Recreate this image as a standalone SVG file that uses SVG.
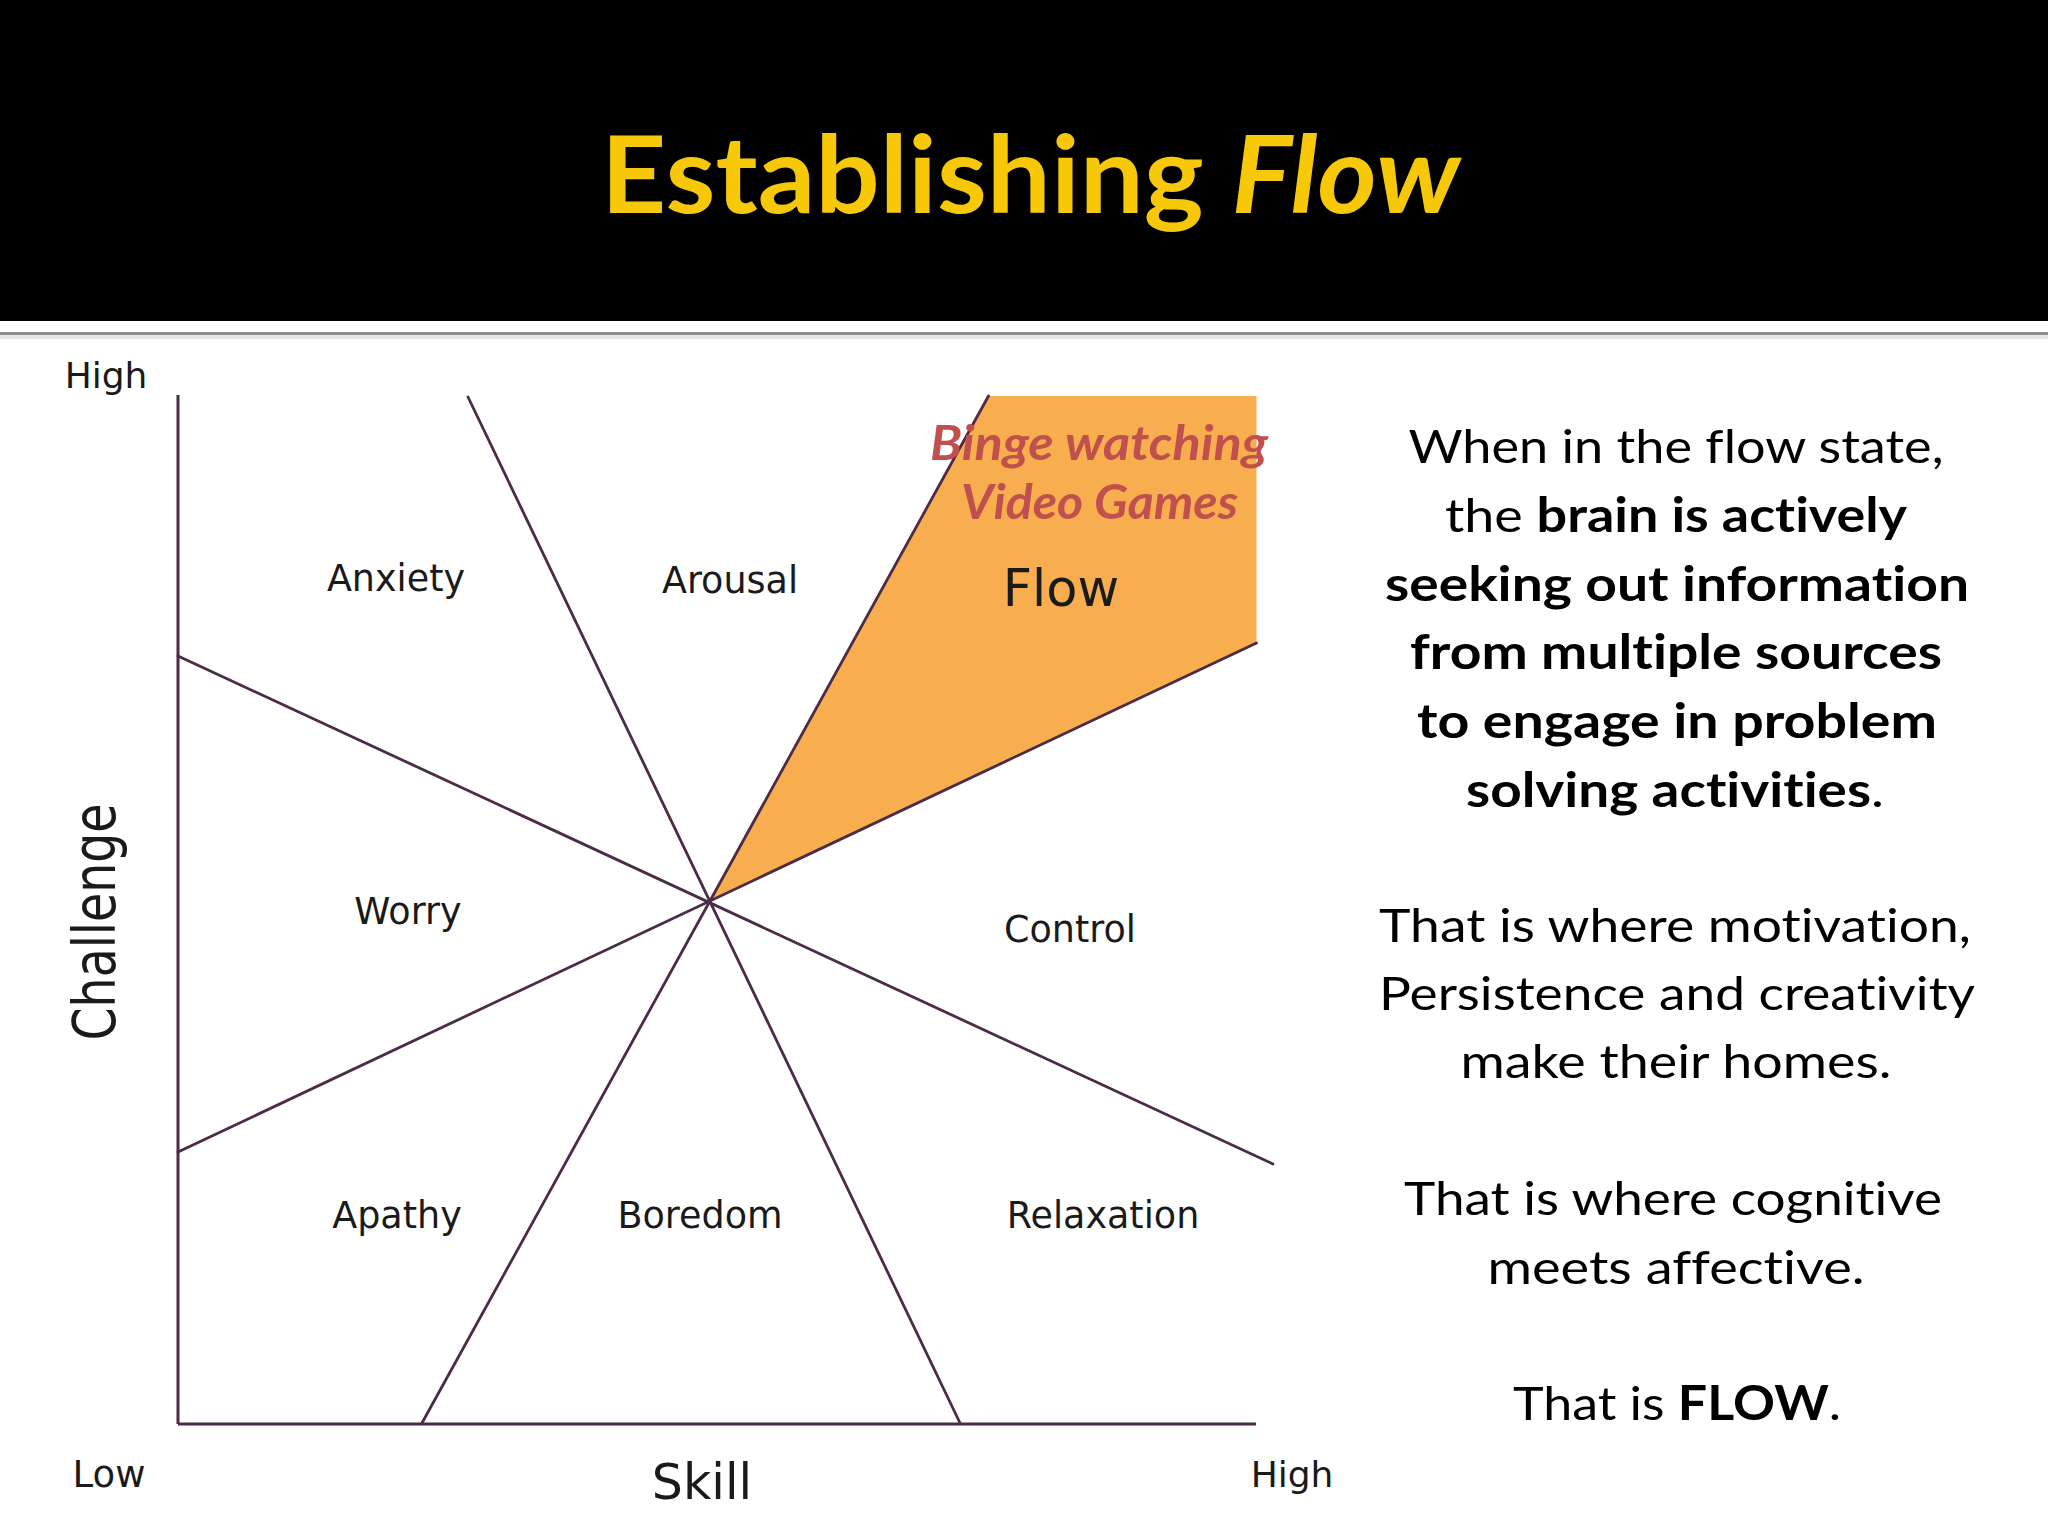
<svg xmlns="http://www.w3.org/2000/svg" width="2048" height="1536" viewBox="0 0 2048 1536">
  <defs>
    <style>
      text { font-variant-ligatures: none; }
      .title { font-family: Lato, "Open Sans", "Liberation Sans", sans-serif; font-weight: bold; font-size: 108px; fill: #F7C808; }
      .lbl { font-family: "DejaVu Sans", "Liberation Sans", sans-serif; font-size: 36.5px; fill: #1a1a1a; text-anchor: middle; }
      .axis { font-family: "DejaVu Sans", "Liberation Sans", sans-serif; fill: #1a1a1a; text-anchor: middle; }
      .binge { font-family: Lato, "Open Sans", "Liberation Sans", sans-serif; font-weight: bold; font-style: italic; font-size: 48px; fill: #C0504D; text-anchor: middle; }
      .body { font-family: Lato, "Open Sans", "Liberation Sans", sans-serif; font-size: 47px; fill: #000; text-anchor: middle; }
      .b { font-weight: bold; }
      .ln { stroke: #4b2b47; stroke-width: 2.8; fill: none; stroke-linecap: round; }
      .ax { stroke: #4b2b47; stroke-width: 3; fill: none; }
    </style>
  </defs>

  <rect x="0" y="0" width="2048" height="1536" fill="#ffffff"/>

  <g id="header">
    <rect x="0" y="0" width="2048" height="321" fill="#000000"/>
    <rect x="0" y="335" width="2048" height="4" fill="#e6e6e6"/>
    <rect x="0" y="332" width="2048" height="3" fill="#8c8c8c"/>
    <text class="title" x="1030.5" y="213" text-anchor="middle" textLength="859" lengthAdjust="spacingAndGlyphs">Establishing <tspan font-style="italic">Flow</tspan></text>
  </g>

  <g id="flow-region">
    <polygon points="709.5,901 988.5,396 1256.5,396 1256.5,643" fill="#F8AD4E"/>
  </g>

  <g id="connectors">
    <line class="ax" x1="178" y1="395" x2="178" y2="1424"/>
    <line class="ax" x1="178" y1="1424" x2="1256" y2="1424"/>
    <line class="ln" x1="468" y1="397" x2="960" y2="1423"/>
    <line class="ln" x1="178" y1="656" x2="1273" y2="1164"/>
    <line class="ln" x1="178" y1="1152" x2="1256.5" y2="643"/>
    <line class="ln" x1="422" y1="1423" x2="988.5" y2="396"/>
  </g>

  <g id="axis-labels">
    <text class="axis" x="106" y="388" font-size="36">High</text>
    <text class="axis" x="109" y="1487" font-size="37">Low</text>
    <text class="axis" x="1292" y="1487" font-size="36">High</text>
    <text class="axis" x="702" y="1499" font-size="49">Skill</text>
    <text class="axis" font-family="Liberation Sans, sans-serif" font-size="59" transform="translate(115,922) rotate(-90)" textLength="237" lengthAdjust="spacingAndGlyphs">Challenge</text>
  </g>

  <g id="node-anxiety"><text class="lbl" x="396" y="591">Anxiety</text></g>
  <g id="node-arousal"><text class="lbl" x="730" y="593">Arousal</text></g>
  <g id="node-flow"><text class="lbl" x="1061" y="606" style="font-size:51px">Flow</text></g>
  <g id="node-worry"><text class="lbl" x="408" y="924">Worry</text></g>
  <g id="node-control"><text class="lbl" x="1070" y="942">Control</text></g>
  <g id="node-apathy"><text class="lbl" x="397" y="1228">Apathy</text></g>
  <g id="node-boredom"><text class="lbl" x="700" y="1228">Boredom</text></g>
  <g id="node-relaxation"><text class="lbl" x="1103" y="1228">Relaxation</text></g>

  <g id="node-binge">
    <text class="binge" x="1099" y="460" textLength="338" lengthAdjust="spacingAndGlyphs">Binge watching</text>
    <text class="binge" x="1099.5" y="519" textLength="277" lengthAdjust="spacingAndGlyphs">Video Games</text>
  </g>

  <g id="body-text">
    <text class="body" x="1676" y="463" textLength="535" lengthAdjust="spacingAndGlyphs">When in the flow state,</text>
    <text class="body" x="1676" y="532" textLength="462" lengthAdjust="spacingAndGlyphs">the <tspan class="b">brain is actively</tspan></text>
    <text class="body b" x="1677" y="601" textLength="584" lengthAdjust="spacingAndGlyphs">seeking out information</text>
    <text class="body b" x="1676" y="669" textLength="532" lengthAdjust="spacingAndGlyphs">from multiple sources</text>
    <text class="body b" x="1677" y="738" textLength="520" lengthAdjust="spacingAndGlyphs">to engage in problem</text>
    <text class="body" x="1675" y="807" textLength="418" lengthAdjust="spacingAndGlyphs"><tspan class="b">solving activities</tspan>.</text>
    <text class="body" x="1675" y="942" textLength="592" lengthAdjust="spacingAndGlyphs">That is where motivation,</text>
    <text class="body" x="1677" y="1010" textLength="596" lengthAdjust="spacingAndGlyphs">Persistence and creativity</text>
    <text class="body" x="1676" y="1078" textLength="431" lengthAdjust="spacingAndGlyphs">make their homes.</text>
    <text class="body" x="1673" y="1215" textLength="538" lengthAdjust="spacingAndGlyphs">That is where cognitive</text>
    <text class="body" x="1676" y="1284" textLength="377" lengthAdjust="spacingAndGlyphs">meets affective.</text>
    <text class="body" x="1677" y="1420" textLength="328" lengthAdjust="spacingAndGlyphs">That is <tspan class="b">FLOW</tspan>.</text>
  </g>
</svg>
